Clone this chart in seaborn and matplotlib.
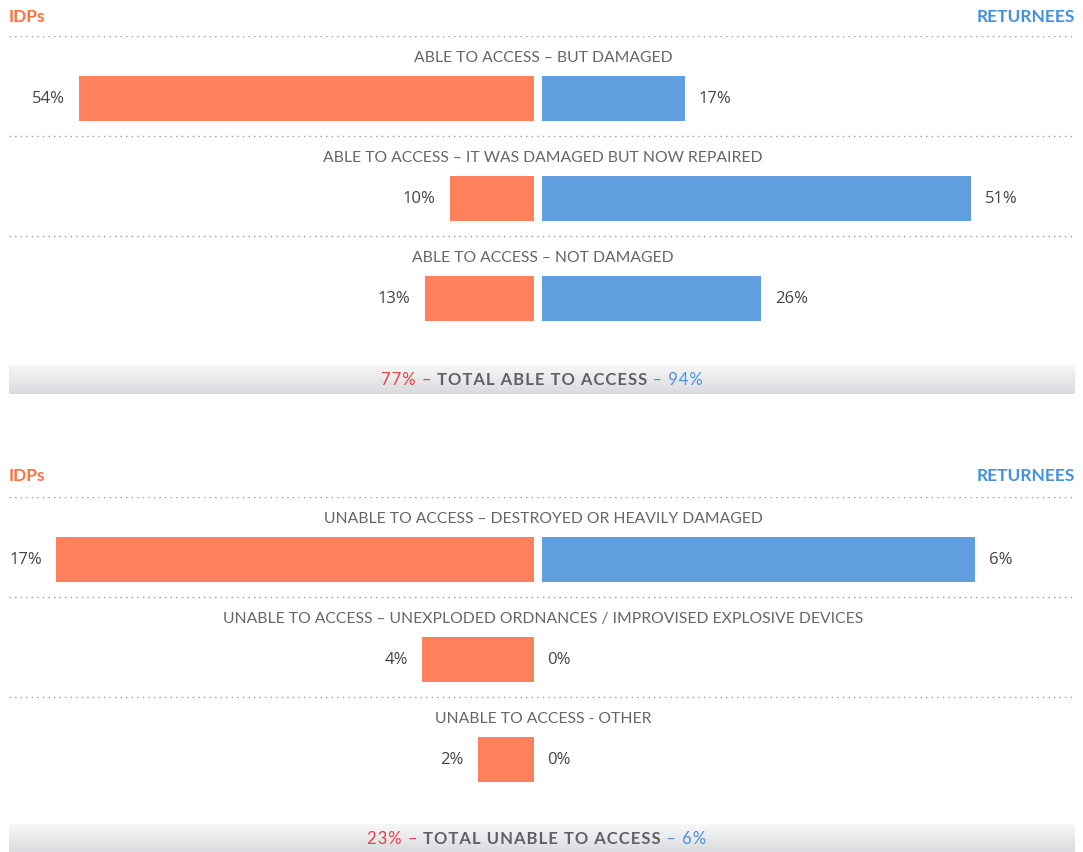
import numpy as np
import seaborn as sns
import matplotlib.pyplot as plt
from matplotlib.colors import LinearSegmentedColormap

# data
able_labels = ["ABLE TO ACCESS – BUT DAMAGED",
               "ABLE TO ACCESS – IT WAS DAMAGED BUT NOW REPAIRED",
               "ABLE TO ACCESS – NOT DAMAGED"]
able_idps = [54, 10, 13]
able_ret = [17, 51, 26]
able_totals = [77, 94]

unable_labels = ["UNABLE TO ACCESS – DESTROYED OR HEAVILY DAMAGED",
                 "UNABLE TO ACCESS – UNEXPLODED ORDNANCES / IMPROVISED EXPLOSIVE DEVICES",
                 "UNABLE TO ACCESS - OTHER"]
unable_idps = [17, 4, 2]
unable_ret = [6, 0, 0]
unable_totals = [23, 6]

W, H = 1083, 853
ORANGE = "#FF805D"
BLUE = "#629FE1"
HEAD_OR = "#FF7040"
HEAD_BL = "#4391DF"
LABEL_FONT = ["Lato", "DejaVu Sans"]
VALUE_FONT = ["Open Sans", "DejaVu Sans"]

plt.rcParams["font.family"] = LABEL_FONT

fig = plt.figure(figsize=(W / 100, H / 100), dpi=100)
grad_cmap = LinearSegmentedColormap.from_list("g", ["#f8f8f8", "#d9dadd"])


def fy(py):
    return 1 - py / H


def track(s):
    # crude letter spacing with hair spaces
    return "\u200a".join(s)


def draw_panel(row0, head_y, labels, idps, ret, totals, total_name, lim_l, lim_r, total_top):
    # header
    fig.text(9 / W, fy(head_y), "IDPs", color=HEAD_OR, fontsize=12.5,
             fontweight="bold", va="center", ha="left")
    fig.text(1075 / W, fy(head_y), "RETURNEES", color=HEAD_BL, fontsize=12.5,
             fontweight="bold", va="center", ha="right")

    bottom = fy(row0 + 262)
    height = 324 / H
    ylim = (2.62, -0.62)

    bg = fig.add_axes([0, bottom, 1, height])
    bg.set_xlim(0, W)
    bg.set_ylim(*ylim)
    bg.axis("off")
    for i, lab in enumerate(labels):
        bg.plot([9, 1075], [i - 0.62, i - 0.62], ls=(0, (1, 3)), color="#9a9a9a", lw=1)
        bg.text(543, i - 0.41, lab, ha="center", va="center", color="#666666",
                fontsize=11.3)

    axl = fig.add_axes([0, bottom, 534 / W, height])
    sns.barplot(x=idps, y=labels, orient="h", color=ORANGE, saturation=1,
                width=0.45, ax=axl)
    axl.set_xlim(lim_l, 0)
    axl.set_ylim(*ylim)
    axl.axis("off")
    for i, v in enumerate(idps):
        axl.annotate(f"{v}%", xy=(v, i), xytext=(-10, 0), textcoords="offset points",
                     ha="right", va="center", fontsize=12, color="#444444",
                     family=VALUE_FONT)

    axr = fig.add_axes([542 / W, bottom, (W - 542) / W, height])
    sns.barplot(x=ret, y=labels, orient="h", color=BLUE, saturation=1,
                width=0.45, ax=axr)
    axr.set_xlim(0, lim_r)
    axr.set_ylim(*ylim)
    axr.axis("off")
    for i, v in enumerate(ret):
        off = 10 if v > 0 else 4
        axr.annotate(f"{v}%", xy=(v, i), xytext=(off, 0), textcoords="offset points",
                     ha="left", va="center", fontsize=12, color="#444444",
                     family=VALUE_FONT)

    # total strip
    tax = fig.add_axes([9 / W, fy(total_top + 29), (1075 - 9) / W, 29 / H])
    tax.imshow(np.linspace(0, 1, 60).reshape(-1, 1), aspect="auto", cmap=grad_cmap,
               extent=[0, 1, 0, 1])
    tax.set_xlim(0, 1)
    tax.set_ylim(0, 1)
    tax.axis("off")
    mid = tax.text(0.5, 0.53, track(total_name), ha="center", va="center",
                   fontsize=12, fontweight="bold", color="#5f6068")
    tax.annotate(track(f"{totals[0]}% – "), xy=(0, 0.5), xycoords=mid, ha="right",
                 va="center", fontsize=12, color="#E0434C")
    tax.annotate(track(f" – {totals[1]}%"), xy=(1, 0.5), xycoords=mid, ha="left",
                 va="center", fontsize=12, color="#4A90E2")


draw_panel(99, 17, able_labels, able_idps, able_ret, able_totals,
           "TOTAL ABLE TO ACCESS", 63.4, 64.3, 366)
draw_panel(560, 476, unable_labels, unable_idps, unable_ret, unable_totals,
           "TOTAL UNABLE TO ACCESS", 19.0, 7.5, 825)

fig.savefig("out.png", dpi=100)
